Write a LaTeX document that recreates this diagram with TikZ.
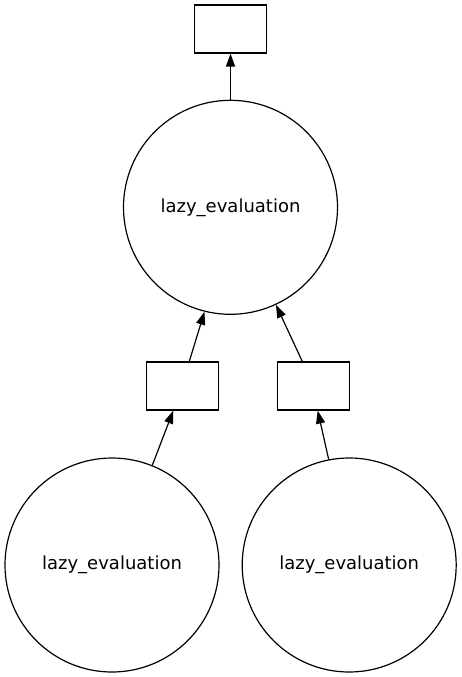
\documentclass[tikz,border=0pt]{standalone}
\usepackage{fontspec}
\setmainfont{DejaVu Sans}
\usetikzlibrary{arrows.meta}

\begin{document}
\begin{tikzpicture}[x=1pt,y=-1pt,line width=1.2pt,
    task/.style={draw,circle,minimum size=214pt,inner sep=0pt,font=\fontsize{18}{22}\selectfont},
    data/.style={draw,rectangle,minimum width=72pt,minimum height=48pt,inner sep=0pt},
    edge/.style={-{Triangle[length=13pt,width=9pt]}}]
     \useasboundingbox (0,0) rectangle (461,677);
     \node[data] (out) at (230.5,29) {};
     \node[task] (top) at (230.5,207.3) {lazy\_evaluation};
     \node[data] (midl) at (182.5,386) {};
     \node[data] (midr) at (313.2,386) {};
     \node[task] (botl) at (112,565) {lazy\_evaluation};
     \node[task] (botr) at (349.2,565) {lazy\_evaluation};
     \draw[edge] (top.north) -- (out.south);
     \draw[edge] ([xshift=6.8pt]midl.north) -- (top.-104.7);
     \draw[edge] ([xshift=-10.9pt]midr.north) -- (top.-65);
     \draw[edge] (botl.68.5) -- ([xshift=-9.2pt]midl.south);
     \draw[edge] (botr.101.6) -- ([xshift=4.5pt]midr.south);
    \end{tikzpicture}
\end{document}
